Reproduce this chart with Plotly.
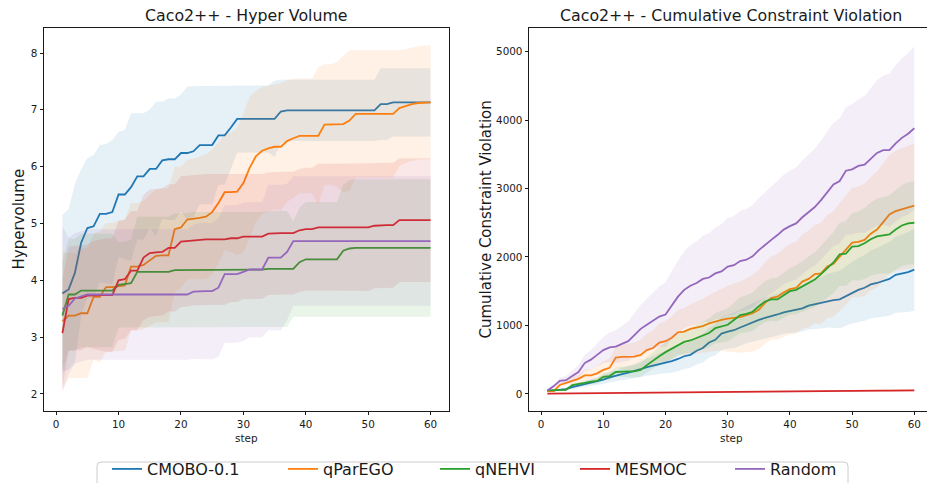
import plotly.graph_objects as go

W, H = 927, 483

steps = list(range(1, 61))
methods = ["CMOBO-0.1", "qParEGO", "qNEHVI", "MESMOC", "Random"]
colors = ["#1f77b4", "#ff7f0e", "#2ca02c", "#d62728", "#9467bd"]
fill_alpha = 0.11

# ---------------- Hyper Volume (mean and std per step) ----------------
hv_cmobo = [3.77, 3.84, 4.13, 4.66, 4.92, 4.95, 5.17, 5.17, 5.20, 5.51,
            5.51, 5.64, 5.83, 5.83, 5.96, 5.96, 6.11, 6.13, 6.13, 6.24,
            6.24, 6.27, 6.38, 6.38, 6.38, 6.55, 6.55, 6.69, 6.84, 6.84,
            6.84, 6.84, 6.84, 6.84, 6.84, 6.97, 6.99, 6.99, 6.99, 6.99,
            6.99, 6.99, 6.99, 6.99, 6.99, 6.99, 6.99, 6.99, 6.99, 6.99,
            6.99, 7.10, 7.10, 7.13, 7.13, 7.13, 7.13, 7.13, 7.13, 7.13]
hv_cmobo_sd = [1.38, 1.41, 1.57, 1.29, 1.23, 1.25, 1.21, 1.23, 1.27, 1.10,
               1.14, 1.30, 1.11, 1.11, 1.04, 1.18, 1.03, 1.07, 1.07, 1.03,
               1.17, 1.15, 1.04, 1.04, 1.04, 0.87, 0.87, 0.73, 0.59, 0.59,
               0.59, 0.59, 0.59, 0.59, 0.67, 0.56, 0.54, 0.54, 0.54, 0.54,
               0.54, 0.54, 0.54, 0.54, 0.54, 0.54, 0.54, 0.54, 0.54, 0.54,
               0.54, 0.63, 0.63, 0.60, 0.60, 0.60, 0.60, 0.60, 0.60, 0.60]

hv_qparego = [3.28, 3.38, 3.38, 3.42, 3.42, 3.71, 3.71, 3.88, 3.88, 3.90,
              3.91, 4.24, 4.24, 4.27, 4.35, 4.43, 4.44, 4.44, 4.90, 4.93,
              5.07, 5.08, 5.10, 5.12, 5.20, 5.36, 5.55, 5.55, 5.56, 5.71,
              5.98, 6.18, 6.28, 6.32, 6.35, 6.35, 6.45, 6.50, 6.54, 6.54,
              6.54, 6.54, 6.74, 6.74, 6.74, 6.75, 6.81, 6.93, 6.93, 6.93,
              6.93, 6.93, 6.93, 6.93, 7.03, 7.07, 7.10, 7.12, 7.13, 7.13]
hv_qparego_sd = [1.23, 1.10, 1.10, 1.14, 1.14, 1.11, 1.15, 1.13, 1.13, 1.15,
                 1.15, 1.12, 1.12, 1.13, 1.15, 1.17, 1.18, 1.18, 1.10, 1.07,
                 1.05, 1.06, 1.08, 1.10, 1.10, 1.06, 1.02, 1.05, 1.12, 1.22,
                 1.25, 1.15, 1.12, 1.10, 1.10, 1.12, 1.07, 1.05, 1.01, 1.01,
                 1.01, 1.21, 1.06, 1.06, 1.10, 1.20, 1.24, 1.12, 1.12, 1.12,
                 1.12, 1.12, 1.12, 1.12, 1.02, 1.00, 1.00, 1.00, 1.00, 1.00]

hv_qnehvi = [3.38, 3.75, 3.75, 3.82, 3.82, 3.82, 3.82, 3.82, 3.82, 3.92,
             3.93, 3.95, 4.15, 4.15, 4.15, 4.15, 4.15, 4.15, 4.18, 4.18,
             4.18, 4.19, 4.19, 4.19, 4.19, 4.19, 4.19, 4.19, 4.19, 4.19,
             4.19, 4.19, 4.19, 4.20, 4.20, 4.20, 4.20, 4.20, 4.32, 4.37,
             4.37, 4.37, 4.37, 4.37, 4.37, 4.52, 4.56, 4.57, 4.57, 4.57,
             4.57, 4.57, 4.57, 4.57, 4.57, 4.57, 4.57, 4.57, 4.57, 4.57]
hv_qnehvi_sd = [0.95, 0.98, 0.98, 1.00, 1.00, 1.00, 1.00, 1.00, 1.00, 0.75,
                0.75, 0.77, 0.97, 0.97, 0.97, 0.97, 0.97, 0.97, 1.00, 1.00,
                1.00, 1.01, 1.01, 1.01, 1.01, 1.01, 1.01, 1.01, 1.01, 1.01,
                1.01, 1.01, 1.01, 1.02, 1.02, 1.02, 1.02, 0.84, 0.96, 1.01,
                1.01, 1.01, 1.01, 1.01, 1.01, 1.16, 1.20, 1.21, 1.21, 1.21,
                1.21, 1.21, 1.21, 1.21, 1.21, 1.21, 1.21, 1.21, 1.21, 1.21]

hv_mesmoc = [3.07, 3.67, 3.69, 3.69, 3.73, 3.74, 3.74, 3.74, 3.74, 4.00,
             4.02, 4.17, 4.17, 4.40, 4.48, 4.49, 4.50, 4.57, 4.57, 4.68,
             4.69, 4.71, 4.72, 4.72, 4.72, 4.72, 4.72, 4.74, 4.74, 4.77,
             4.77, 4.77, 4.77, 4.82, 4.83, 4.83, 4.83, 4.83, 4.88, 4.90,
             4.90, 4.93, 4.93, 4.93, 4.93, 4.93, 4.93, 4.93, 4.93, 4.93,
             4.96, 4.97, 4.97, 4.97, 5.06, 5.06, 5.06, 5.06, 5.06, 5.06]
hv_mesmoc_sd = [0.95, 0.92, 0.92, 0.92, 0.90, 0.95, 0.98, 1.00, 1.00, 1.05,
                1.05, 1.05, 1.05, 1.10, 1.12, 1.12, 1.12, 1.12, 1.12, 1.15,
                1.15, 1.15, 1.15, 1.15, 1.15, 1.15, 1.15, 1.12, 1.12, 1.10,
                1.10, 1.10, 1.10, 1.08, 1.08, 1.08, 1.08, 1.08, 1.08, 1.08,
                1.08, 1.12, 1.12, 1.12, 1.12, 1.12, 1.12, 1.12, 1.12, 1.12,
                1.10, 1.10, 1.10, 1.10, 1.09, 1.09, 1.09, 1.09, 1.09, 1.09]

hv_random = [3.50, 3.55, 3.68, 3.72, 3.75, 3.75, 3.75, 3.75, 3.75, 3.75,
             3.75, 3.75, 3.75, 3.75, 3.75, 3.75, 3.75, 3.75, 3.75, 3.75,
             3.75, 3.80, 3.81, 3.81, 3.81, 3.87, 4.11, 4.11, 4.11, 4.15,
             4.19, 4.19, 4.19, 4.40, 4.40, 4.40, 4.50, 4.69, 4.69, 4.69,
             4.69, 4.69, 4.69, 4.69, 4.69, 4.69, 4.69, 4.69, 4.69, 4.69,
             4.69, 4.69, 4.69, 4.69, 4.69, 4.69, 4.69, 4.69, 4.69, 4.69]
hv_random_sd = [1.45, 1.20, 1.15, 1.15, 1.15, 1.15, 1.15, 1.15, 1.15, 1.15,
                1.15, 1.15, 1.15, 1.15, 1.15, 1.15, 1.15, 1.15, 1.15, 1.15,
                1.15, 1.18, 1.20, 1.20, 1.20, 1.22, 1.21, 1.21, 1.21, 1.22,
                1.19, 1.19, 1.19, 1.28, 1.28, 1.28, 1.20, 1.14, 1.14, 1.14,
                1.14, 1.14, 1.14, 1.14, 1.14, 1.14, 1.14, 1.14, 1.14, 1.14,
                1.14, 1.14, 1.14, 1.14, 1.14, 1.14, 1.14, 1.14, 1.14, 1.14]

# ---------------- Cumulative Constraint Violation ----------------
cv_cmobo = [40, 50, 55, 70, 100, 120, 140, 160, 180, 210,
            240, 270, 290, 310, 330, 360, 390, 410, 440, 460,
            480, 510, 550, 570, 630, 670, 750, 790, 880, 910,
            930, 970, 1010, 1040, 1080, 1110, 1130, 1160, 1190, 1210,
            1230, 1250, 1290, 1310, 1330, 1360, 1370, 1380, 1430, 1480,
            1520, 1550, 1600, 1620, 1650, 1680, 1740, 1760, 1780, 1815]
cv_cmobo_sd = [10, 15, 18, 22, 28, 32, 38, 45, 55, 65,
               72, 80, 88, 95, 105, 115, 125, 135, 150, 160,
               170, 178, 185, 190, 200, 210, 220, 230, 240, 250,
               258, 265, 272, 280, 287, 293, 300, 306, 312, 320,
               330, 340, 350, 362, 375, 390, 405, 420, 435, 450,
               465, 480, 495, 510, 525, 540, 555, 570, 585, 600]

cv_qparego = [40, 40, 130, 160, 200, 220, 270, 270, 300, 350,
              380, 530, 540, 540, 545, 570, 640, 670, 750, 770,
              820, 900, 910, 950, 970, 990, 1030, 1060, 1080, 1100,
              1110, 1120, 1150, 1180, 1230, 1330, 1400, 1420, 1480, 1530,
              1550, 1640, 1680, 1750, 1760, 1860, 1900, 2000, 2100, 2210,
              2220, 2250, 2340, 2400, 2510, 2620, 2670, 2700, 2730, 2750]
cv_qparego_sd = [15, 20, 30, 40, 55, 65, 80, 95, 110, 125,
                 140, 160, 175, 190, 205, 220, 240, 260, 280, 300,
                 315, 330, 345, 360, 380, 395, 415, 435, 455, 480,
                 500, 520, 540, 560, 580, 595, 610, 625, 645, 660,
                 675, 690, 705, 720, 740, 755, 770, 785, 800, 800,
                 810, 820, 830, 845, 860, 870, 880, 890, 900, 910]

cv_qnehvi = [50, 50, 50, 60, 130, 140, 160, 180, 190, 250,
             260, 320, 330, 330, 330, 350, 420, 490, 550, 610,
             660, 720, 760, 780, 820, 850, 890, 960, 980, 1010,
             1080, 1150, 1170, 1200, 1280, 1350, 1380, 1380, 1440, 1500,
             1520, 1570, 1620, 1670, 1750, 1840, 1920, 2040, 2050, 2150,
             2160, 2200, 2260, 2300, 2320, 2330, 2400, 2460, 2490, 2500]
cv_qnehvi_sd = [10, 12, 15, 18, 22, 26, 30, 35, 42, 50,
                58, 66, 74, 82, 90, 100, 110, 120, 130, 140,
                150, 160, 170, 180, 190, 200, 210, 220, 230, 240,
                250, 260, 270, 280, 290, 300, 310, 320, 330, 340,
                355, 370, 385, 400, 415, 430, 445, 460, 475, 490,
                505, 520, 535, 550, 560, 570, 580, 590, 600, 610]

cv_mesmoc = [3, 4, 5, 6, 7, 8, 9, 10, 12, 13,
             14, 15, 16, 17, 18, 19, 20, 21, 22, 23,
             24, 24, 25, 25, 26, 26, 27, 27, 28, 28,
             29, 29, 30, 30, 31, 31, 32, 32, 33, 33,
             34, 35, 36, 37, 38, 39, 40, 41, 42, 43,
             44, 45, 46, 47, 48, 48, 49, 49, 50, 50]
cv_mesmoc_sd = [2, 2, 3, 3, 3, 4, 4, 4, 5, 5,
                5, 6, 6, 6, 6, 7, 7, 7, 7, 8,
                8, 8, 8, 8, 9, 9, 9, 9, 9, 9,
                10, 10, 10, 10, 10, 10, 11, 11, 11, 11,
                11, 12, 12, 12, 12, 13, 13, 13, 13, 14,
                14, 14, 14, 15, 15, 15, 15, 15, 16, 16]

cv_random = [50, 110, 190, 200, 260, 320, 450, 500, 570, 640,
             680, 690, 730, 770, 860, 950, 1010, 1070, 1130, 1160,
             1300, 1420, 1520, 1580, 1620, 1680, 1700, 1760, 1790, 1860,
             1880, 1940, 1960, 2010, 2100, 2180, 2250, 2320, 2400, 2450,
             2490, 2580, 2660, 2730, 2830, 2940, 3060, 3110, 3260, 3280,
             3330, 3350, 3440, 3520, 3560, 3560, 3660, 3740, 3800, 3880]
cv_random_sd = [20, 30, 45, 60, 80, 100, 120, 140, 165, 190,
                215, 240, 265, 290, 320, 350, 380, 410, 440, 470,
                500, 530, 560, 590, 610, 630, 650, 670, 690, 710,
                720, 730, 740, 750, 760, 770, 780, 790, 800, 810,
                820, 830, 840, 855, 870, 885, 900, 915, 930, 950,
                975, 1000, 1030, 1060, 1090, 1120, 1140, 1160, 1180, 1195]

hv_means = [hv_cmobo, hv_qparego, hv_qnehvi, hv_mesmoc, hv_random]
hv_sds = [hv_cmobo_sd, hv_qparego_sd, hv_qnehvi_sd, hv_mesmoc_sd, hv_random_sd]
cv_means = [cv_cmobo, cv_qparego, cv_qnehvi, cv_mesmoc, cv_random]
cv_sds = [cv_cmobo_sd, cv_qparego_sd, cv_qnehvi_sd, cv_mesmoc_sd, cv_random_sd]


def px(x):
    return x / W


def py(y):
    return 1 - y / H


def rgba(hexc, a):
    h = hexc.lstrip("#")
    r, g, b = int(h[0:2], 16), int(h[2:4], 16), int(h[4:6], 16)
    return f"rgba({r},{g},{b},{a})"


FONT = "DejaVu Sans"
fig = go.Figure()

legend_names = ["legend", "legend2", "legend3", "legend4", "legend5"]

for panel, (means, sds, xa, ya) in enumerate([(hv_means, hv_sds, "x", "y"),
                                                (cv_means, cv_sds, "x2", "y2")]):
    for i in range(5):
        m, s = means[i], sds[i]
        upper = [a + b for a, b in zip(m, s)]
        lower = [a - b for a, b in zip(m, s)]
        fig.add_trace(go.Scatter(
            x=steps + steps[::-1], y=upper + lower[::-1],
            fill="toself", fillcolor=rgba(colors[i], fill_alpha),
            line=dict(width=0), mode="lines", hoverinfo="skip",
            showlegend=False, xaxis=xa, yaxis=ya))
        fig.add_trace(go.Scatter(
            x=steps, y=m, mode="lines", name=methods[i],
            line=dict(color=colors[i], width=1.8),
            showlegend=(panel == 0), legend=legend_names[i],
            xaxis=xa, yaxis=ya))

axis_common = dict(
    showgrid=False, zeroline=False, showline=True, linecolor="#1a1a1a",
    linewidth=0.9, ticks="outside", ticklen=3.5, tickwidth=0.9,
    tickcolor="#1a1a1a", tickfont=dict(family=FONT, size=10.4, color="#1a1a1a"),
    automargin=False,
)

ydom = [py(411), py(28)]
fig.update_layout(
    width=W, height=H,
    margin=dict(l=0, r=0, t=0, b=0, pad=0, autoexpand=False),
    paper_bgcolor="white", plot_bgcolor="white",
    font=dict(family=FONT, color="#1a1a1a"),
    xaxis=dict(domain=[px(44), px(449)], range=[-1.95, 62.95],
               tickvals=[0, 10, 20, 30, 40, 50, 60], mirror=True,
               anchor="y", **axis_common),
    yaxis=dict(domain=ydom, range=[1.70, 8.44], tickvals=[2, 3, 4, 5, 6, 7, 8],
               mirror=True, anchor="x", **axis_common),
    xaxis2=dict(domain=[px(529), 1.0], range=[-1.95, 62.04],
                tickvals=[0, 10, 20, 30, 40, 50, 60], mirror=True,
                anchor="y2", **axis_common),
    yaxis2=dict(domain=ydom, range=[-250, 5345],
                tickvals=[0, 1000, 2000, 3000, 4000, 5000],
                mirror=False, anchor="x2", **axis_common),
)

# legends: one per entry, positioned like the matplotlib legend row
text_starts = [147, 323, 475, 615, 770]
for name, ts in zip(legend_names, text_starts):
    fig.update_layout({name: dict(
        x=px(ts - 40), y=py(452), xanchor="left", yanchor="top",
        orientation="h", bgcolor="rgba(0,0,0,0)", borderwidth=0,
        font=dict(family=FONT, size=16, color="#1a1a1a"),
        itemwidth=30, traceorder="normal")})

# legend frame (rounded top corners, bottom runs off the image)
x0, x1 = px(97), px(848)
yt, yb = py(462), py(500)
rx, ry = 4 / W, 4 / H
path = (f"M {x0},{yb} L {x0},{yt - ry} Q {x0},{yt} {x0 + rx},{yt} "
        f"L {x1 - rx},{yt} Q {x1},{yt} {x1},{yt - ry} L {x1},{yb} Z")
fig.add_shape(type="path", path=path, xref="paper", yref="paper",
              line=dict(color="#cccccc", width=1), fillcolor="rgba(255,255,255,0.8)",
              layer="below")

ann = [
    dict(text="Caco2++ - Hyper Volume", x=px(246.5), y=py(16), size=15.8, angle=0),
    dict(text="Caco2++ - Cumulative Constraint Violation", x=px(731), y=py(16), size=15.8, angle=0),
    dict(text="Hypervolume", x=px(18), y=py(219.5), size=15, angle=-90),
    dict(text="Cumulative Constraint Violation", x=px(485), y=py(219.5), size=15, angle=-90),
    dict(text="step", x=px(246.5), y=py(438), size=10.4, angle=0),
    dict(text="step", x=px(731), y=py(438), size=10.4, angle=0),
]
for a in ann:
    fig.add_annotation(text=a["text"], x=a["x"], y=a["y"], xref="paper", yref="paper",
                       showarrow=False, textangle=a["angle"], xanchor="center",
                       yanchor="middle", font=dict(family=FONT, size=a["size"], color="#1a1a1a"))

fig.write_html(
    "out.html",
    config={"displayModeBar": False},
    post_script="document.body.style.margin='0';document.body.style.padding='0';"
                "document.body.style.overflow='hidden';",
)
